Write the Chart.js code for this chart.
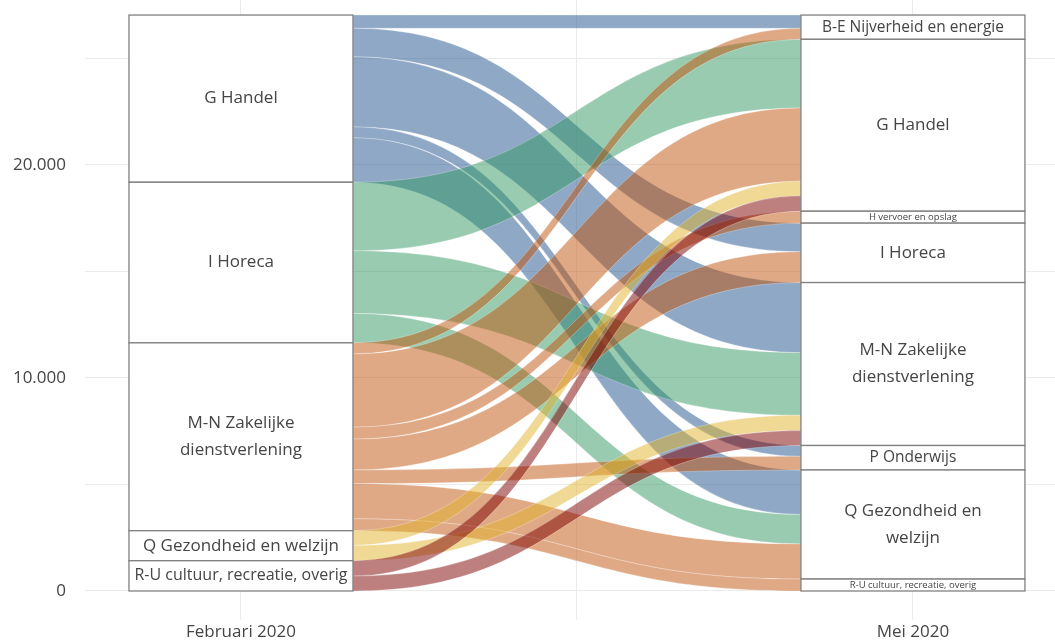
<!DOCTYPE html>
<html lang="nl">
<head>
<meta charset="utf-8">
<title>Februari 2020 - Mei 2020</title>
<script src="https://cdn.jsdelivr.net/npm/chart.js@4"></script>
<style>
  html, body { margin: 0; padding: 0; background: #fff; overflow: hidden; }
  #wrap { width: 1055px; height: 644px; }
</style>
</head>
<body>
<div id="wrap"><canvas id="alluvial"></canvas></div>
<script>
// periods on the x axis (x = 1 and x = 2)
const periods = ["Februari 2020", "Mei 2020"];

// strata, top to bottom
const febSectors = ["G Handel", "I Horeca", "M-N Zakelijke dienstverlening",
                    "Q Gezondheid en welzijn", "R-U cultuur, recreatie, overig"];
const meiSectors = ["B-E Nijverheid en energie", "G Handel", "H vervoer en opslag", "I Horeca",
                    "M-N Zakelijke dienstverlening", "P Onderwijs", "Q Gezondheid en welzijn",
                    "R-U cultuur, recreatie, overig"];

// flows out of each februari sector, one value per mei sector (order of meiSectors)
const fromHandel   = [620,    0,   0, 1340, 3290, 510, 2090,   0];
const fromHoreca   = [  0, 3220,   0,    0, 2940,   0, 1380,   0];
const fromZakelijk = [520, 3440, 560, 1450,    0, 640, 1650, 560];
const fromGezond   = [  0,  690,   0,    0,  720,   0,    0,   0];
const fromCultuur  = [  0,  720,   0,    0,  700,   0,    0,   0];

const yTicks = [0, 5000, 10000, 15000, 20000, 25000];

// **Styling**
const FONT = "'Open Sans', 'DejaVu Sans', sans-serif";
const TEXT = "#454545";
const flowColors = ["rgba(29,81,141,0.5)", "rgba(51,151,99,0.5)", "rgba(193,83,11,0.5)",
                    "rgba(225,179,43,0.5)", "rgba(125,0,0,0.5)"];
const HALF = 1 / 6;   // half width of a stratum box, in x units

function formatNl(v) {
    return String(v).replace(/\B(?=(\d{3})+(?!\d))/g, ".");
}

// word wrap, only used when the box is tall enough for more lines
function wrapLabel(ctx, text, maxWidth) {
    let words = text.split(" "), lines = [], line = "";
    words.forEach((w) => {
        let test = line ? line + " " + w : w;
        if (line && ctx.measureText(test).width > maxWidth) { lines.push(line); line = w; }
        else line = test;
    });
    lines.push(line);
    return lines;
}

function drawStrata(chart, names, totals, tops, center) {
    let ctx = chart.ctx, x = chart.scales.x, y = chart.scales.y;
    let left = x.getPixelForValue(center - HALF), right = x.getPixelForValue(center + HALF);
    names.forEach((name, k) => {
        let top = y.getPixelForValue(tops[k]);
        let bottom = y.getPixelForValue(tops[k] - totals[k]);
        let h = bottom - top;
        ctx.fillStyle = "#ffffff";
        ctx.fillRect(left, top, right - left, h);
        ctx.strokeStyle = "#808080";
        ctx.lineWidth = 1.3;
        ctx.strokeRect(left, top, right - left, h);

        let size = h >= 28 ? 17 : (h >= 20 ? 15.5 : 9.5);
        ctx.font = size + "px " + FONT;
        while (h < 50 && ctx.measureText(name).width > right - left - 6 && size > 8) {
            size -= 0.5;
            ctx.font = size + "px " + FONT;
        }
        let lines = h >= 50 ? wrapLabel(ctx, name, 160) : [name];
        let lh = 27;
        let cy = (top + bottom) / 2 - (lines.length - 1) * lh / 2;
        ctx.fillStyle = TEXT;
        ctx.textAlign = "center";
        ctx.textBaseline = "middle";
        lines.forEach((ln, i) => ctx.fillText(ln, (left + right) / 2, cy + i * lh + (size < 12 ? 0.5 : 0)));
    });
}

// **Alluvial flows + strata drawn through the chart scales**
const alluvialPlugin = {
    id: "alluvial",
    afterDatasetsDraw(chart) {
        let ctx = chart.ctx, x = chart.scales.x, y = chart.scales.y;
        let sources = [fromHandel, fromHoreca, fromZakelijk, fromGezond, fromCultuur];
        let febTotals = sources.map((row) => row.reduce((a, b) => a + b, 0));
        let meiTotals = meiSectors.map((_, j) => sources.reduce((a, row) => a + row[j], 0));

        let febTops = [], meiTops = [];
        let acc = febTotals.reduce((a, b) => a + b, 0);
        febTotals.forEach((t) => { febTops.push(acc); acc -= t; });
        acc = meiTotals.reduce((a, b) => a + b, 0);
        meiTotals.forEach((t) => { meiTops.push(acc); acc -= t; });

        let xa = x.getPixelForValue(1 + HALF), xb = x.getPixelForValue(2 - HALF);
        let xm = (xa + xb) / 2;
        let rightUsed = meiSectors.map(() => 0);

        ctx.save();
        sources.forEach((row, i) => {
            let leftUsed = 0;
            row.forEach((v, j) => {
                if (!v) return;
                let lt = y.getPixelForValue(febTops[i] - leftUsed);
                let lb = y.getPixelForValue(febTops[i] - leftUsed - v);
                let rt = y.getPixelForValue(meiTops[j] - rightUsed[j]);
                let rb = y.getPixelForValue(meiTops[j] - rightUsed[j] - v);
                leftUsed += v;
                rightUsed[j] += v;

                ctx.beginPath();
                ctx.moveTo(xa, lt);
                ctx.bezierCurveTo(xm, lt, xm, rt, xb, rt);
                ctx.lineTo(xb, rb);
                ctx.bezierCurveTo(xm, rb, xm, lb, xa, lb);
                ctx.closePath();
                ctx.fillStyle = flowColors[i];
                ctx.fill();
                ctx.strokeStyle = "rgba(255,255,255,0.45)";
                ctx.lineWidth = 0.6;
                ctx.stroke();
            });
        });

        drawStrata(chart, febSectors, febTotals, febTops, 1);
        drawStrata(chart, meiSectors, meiTotals, meiTops, 2);
        ctx.restore();
    }
};

let ctx = document.getElementById("alluvial").getContext("2d");
new Chart(ctx, {
    type: "scatter",
    data: { datasets: [{ data: [], pointRadius: 0 }] },
    options: {
        responsive: true,
        maintainAspectRatio: false,
        animation: false,
        layout: { padding: 0 },
        plugins: { legend: { display: false }, tooltip: { enabled: false } },
        scales: {
            x: {
                type: "linear",
                min: 0.7679,
                max: 2.2114,
                afterBuildTicks: (s) => { s.ticks = [1, 1.5, 2].map((v) => ({ value: v })); },
                afterFit: (s) => { s.height = 24; },
                border: { display: false },
                grid: { color: "#ebebeb", lineWidth: 1, drawTicks: false },
                ticks: {
                    padding: 2,
                    maxRotation: 0,
                    autoSkip: false,
                    color: TEXT,
                    font: { family: FONT, size: 17 },
                    callback: (v) => (v === 1 ? periods[0] : v === 2 ? periods[1] : "")
                }
            },
            y: {
                type: "linear",
                min: -1362,
                max: 27746,
                afterBuildTicks: (s) => { s.ticks = yTicks.map((v) => ({ value: v })); },
                afterFit: (s) => { s.width = 85; },
                border: { display: false },
                grid: { color: "#ebebeb", lineWidth: 1, drawTicks: true, tickLength: 19, tickColor: "rgba(0,0,0,0)" },
                ticks: {
                    padding: 0,
                    color: TEXT,
                    font: (c) => ({ family: FONT, size: 17,
                        lineHeight: c.tick && c.tick.value % 10000 === 0 ? 1.2 : 0 }),
                    callback: (v) => (v % 10000 === 0 ? formatNl(v) : "")
                }
            }
        }
    },
    plugins: [alluvialPlugin]
});
</script>
</body>
</html>
